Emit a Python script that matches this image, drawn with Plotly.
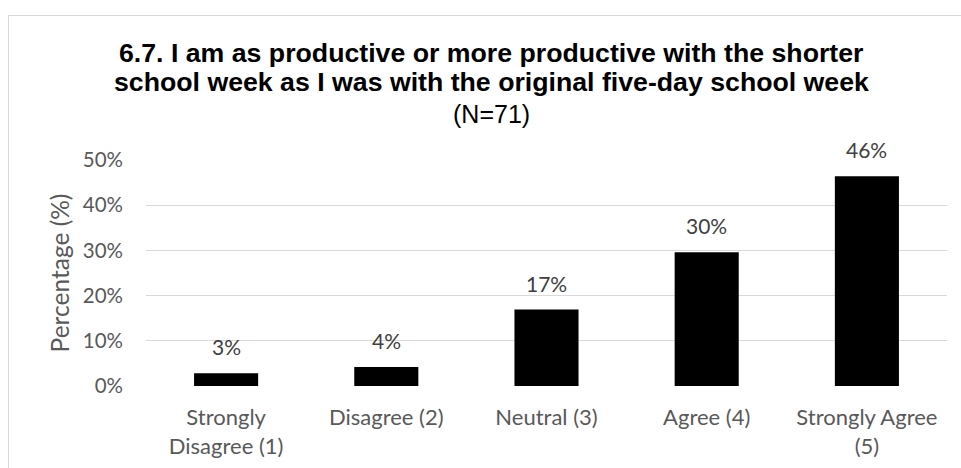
import plotly.graph_objects as go

# Survey item 6.7 — share of respondents per answer (N=71)
categories = [
    "Strongly<br>Disagree (1)",
    "Disagree (2)",
    "Neutral (3)",
    "Agree (4)",
    "Strongly Agree<br>(5)",
]
shares = [0.028, 0.042, 0.169, 0.296, 0.464]

y_tick_values = [0.0, 0.1, 0.2, 0.3, 0.4, 0.5]
y_tick_labels = ["0%", "10%", "20%", "30%", "40%", "50%"]

title_lines = [
    "6.7. I am as productive or more productive with the shorter",
    "school week as I was with the original five-day school week",
]
subtitle = "(N=71)"
y_title = "Percentage (%)"

# Canvas and plot-area geometry (pixels)
W, H = 961, 468
L, R, T, B = 146, 14, 160, 82
PW, PH = W - L - R, H - T - B


def paper_x(px):
    return (px - L) / PW


def paper_y(py):
    return (H - B - py) / PH


BODY_FONT = "Lato, 'Open Sans', sans-serif"
TITLE_FONT = "'Liberation Sans', Arial, sans-serif"

fig = go.Figure(
    go.Bar(
        x=categories,
        y=shares,
        width=0.4,
        marker=dict(color="#000000", line=dict(width=0)),
        hoverinfo="skip",
    )
)

annotations = []

# value labels above the bars
for cat, val in zip(categories, shares):
    annotations.append(
        dict(
            x=cat, y=val, xref="x", yref="y",
            text=f"{val:.0%}",
            showarrow=False, yanchor="bottom", yshift=12,
            font=dict(family=BODY_FONT, size=21, color="#404040"),
        )
    )

# chart title: two bold lines and the sample size
for line, cy in zip(title_lines, [52.5, 82.5]):
    annotations.append(
        dict(
            x=paper_x(491), y=paper_y(cy), xref="paper", yref="paper",
            text=f"<b>{line}</b>", showarrow=False,
            xanchor="center", yanchor="middle",
            font=dict(family=TITLE_FONT, size=26.7, color="#000000"),
        )
    )
annotations.append(
    dict(
        x=paper_x(491), y=paper_y(113.5), xref="paper", yref="paper",
        text=subtitle, showarrow=False,
        xanchor="center", yanchor="middle",
        font=dict(family=TITLE_FONT, size=25, color="#000000"),
    )
)

fig.update_layout(
    width=W,
    height=H,
    margin=dict(l=L, r=R, t=T, b=B, pad=0, autoexpand=False),
    paper_bgcolor="#ffffff",
    plot_bgcolor="#ffffff",
    showlegend=False,
    annotations=annotations,
    shapes=[
        dict(
            type="rect", xref="paper", yref="paper",
            x0=paper_x(8.5), x1=paper_x(990),
            y0=paper_y(500), y1=paper_y(15.5),
            line=dict(color="#d9d9d9", width=1),
            fillcolor="rgba(0,0,0,0)", layer="below",
        )
    ],
    xaxis=dict(
        automargin=False,
        showline=False, showgrid=False, zeroline=False, ticks="",
        tickfont=dict(family=BODY_FONT, size=22, color="#595959"),
        ticklabelstandoff=16,
    ),
    yaxis=dict(
        automargin=False,
        range=[0, 0.5],
        tickvals=y_tick_values, ticktext=y_tick_labels,
        showgrid=True, gridcolor="#d9d9d9", gridwidth=1.3,
        zeroline=False, showline=False, ticks="",
        tickfont=dict(family=BODY_FONT, size=20.5, color="#595959"),
        ticklabelstandoff=22,
        title=dict(
            text=y_title, standoff=6,
            font=dict(family=BODY_FONT, size=24.5, color="#595959"),
        ),
    ),
)

fig.write_html("out.html")
